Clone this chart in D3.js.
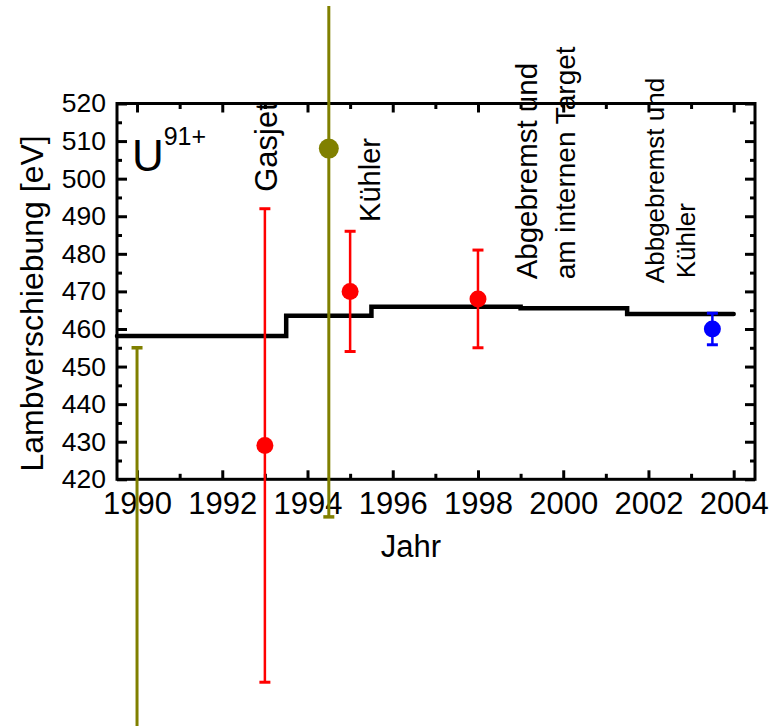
<!DOCTYPE html>
<html><head><meta charset="utf-8">
<script src="https://cdn.jsdelivr.net/npm/d3@7"></script>
<style>body{margin:0;background:#fff}svg{display:block;font-family:Arial,"Liberation Sans",sans-serif}</style>
</head><body><svg id="c" width="770" height="726"></svg>
<script>
// data
const redYears = [1993, 1995, 1998];
const redValues = [429, 470, 468];
const redErrors = [63, 16, 13];
const oliveYears = [1990, 1994.5];
const oliveValues = [340, 508];
const oliveErrors = [115, 98];
const blueYears = [2003.5];
const blueValues = [460];
const blueErrors = [4.2];
const stepYears = [1989.53, 1993.5, 1995.5, 1999, 2001.5, 2004];
const stepValues = [458.1, 463.5, 465.9, 465.5, 464.0, 464.0];
const xTickLabels = [1990, 1992, 1994, 1996, 1998, 2000, 2002, 2004];
const yTickLabels = [420, 430, 440, 450, 460, 470, 480, 490, 500, 510, 520];
const notes = [
  {text: "Gasjet", year: 1993.28, value: 496.5, size: 31},
  {text: "Kühler", year: 1995.70, value: 488.5, size: 29},
  {text: "Abgebremst und", year: 1999.39, value: 473.2, size: 29.5},
  {text: "am internen Target", year: 2000.28, value: 473.2, size: 28},
  {text: "Abbgebremst und", year: 2002.37, value: 472.2, size: 26},
  {text: "Kühler", year: 2003.09, value: 473.5, size: 26}
];

const svg = d3.select("#c");
const L = 117, R = 755, T = 103.5, B = 479.3;
const x = d3.scaleLinear().domain([1989.53, 2004.5]).range([L, R]);
const y = d3.scaleLinear().domain([420, 520]).range([B, T]);

svg.append("defs").append("clipPath").attr("id","clip")
  .append("rect").attr("x",0).attr("y",6).attr("width",770).attr("height",720);

// axes with inward ticks
const minorX = d3.range(1990, 2005, 1);
const minorY = d3.range(420, 521, 5);
function tickAxis(axisFn, scale, vals, len, transform) {
  const g = svg.append("g").attr("transform", transform)
    .call(axisFn(scale).tickValues(vals).tickSize(len).tickFormat(""));
  g.select(".domain").remove();
  g.selectAll("line").attr("stroke","#000").attr("stroke-width",3);
  return g;
}
const majX = minorX.filter(d => d % 2 === 0), minX = minorX.filter(d => d % 2 !== 0);
const majY = minorY.filter(d => d % 10 === 0), minY = minorY.filter(d => d % 10 !== 0);
tickAxis(d3.axisTop, x, majX, 9, `translate(0,${B})`);
tickAxis(d3.axisTop, x, minX, 5.5, `translate(0,${B})`);
tickAxis(d3.axisBottom, x, majX, 9, `translate(0,${T})`);
tickAxis(d3.axisBottom, x, minX, 5.5, `translate(0,${T})`);
tickAxis(d3.axisRight, y, majY, 10, `translate(${L},0)`);
tickAxis(d3.axisRight, y, minY, 5, `translate(${L},0)`);
tickAxis(d3.axisLeft, y, majY, 10, `translate(${R},0)`);
tickAxis(d3.axisLeft, y, minY, 5, `translate(${R},0)`);

// tick labels
const xl = svg.append("g").attr("transform",`translate(0,${B})`)
  .call(d3.axisBottom(x).tickValues(xTickLabels).tickSize(0).tickPadding(35).tickFormat(d3.format("d")));
xl.select(".domain").remove();
xl.selectAll("text").attr("font-size",31).attr("fill","#000").attr("font-family","Arial, 'Liberation Sans', sans-serif").attr("dy",0);
const yl = svg.append("g").attr("transform",`translate(${L},0)`)
  .call(d3.axisLeft(y).tickValues(yTickLabels).tickSize(0).tickPadding(11).tickFormat(d3.format("d")));
yl.select(".domain").remove();
yl.selectAll("text").attr("font-size",26.5).attr("fill","#000").attr("font-family","Arial, 'Liberation Sans', sans-serif");

// frame
svg.append("rect").attr("x",L).attr("y",T).attr("width",R-L).attr("height",B-T)
  .attr("fill","none").attr("stroke","#000").attr("stroke-width",3);

// step line
const stepData = stepYears.map((d,i)=>[d, stepValues[i]]);
svg.append("path").datum(stepData)
  .attr("d", d3.line().x(d=>x(d[0])).y(d=>y(d[1])).curve(d3.curveStepAfter))
  .attr("fill","none").attr("stroke","#000").attr("stroke-width",4.5).attr("stroke-linecap","round");

// error bars + points
const plot = svg.append("g").attr("clip-path","url(#clip)");
function series(years, vals, errs, color, r, w, cap) {
  const data = years.map((d,i)=>({x:d, v:vals[i], e:errs[i]}));
  const g = plot.append("g");
  g.selectAll(".eb").data(data).join("line")
    .attr("x1",d=>x(d.x)).attr("x2",d=>x(d.x))
    .attr("y1",d=>y(d.v+d.e)).attr("y2",d=>y(d.v-d.e))
    .attr("stroke",color).attr("stroke-width",w);
  ["top","bot"].forEach(k=>{
    g.selectAll(".c"+k).data(data).join("line")
      .attr("x1",d=>x(d.x)-cap).attr("x2",d=>x(d.x)+cap)
      .attr("y1",d=>y(k==="top"?d.v+d.e:d.v-d.e)).attr("y2",d=>y(k==="top"?d.v+d.e:d.v-d.e))
      .attr("stroke",color).attr("stroke-width",w+0.5);
  });
  g.selectAll("circle").data(data).join("circle")
    .attr("cx",d=>x(d.x)).attr("cy",d=>y(d.v)).attr("r",r).attr("fill",color);
}
series(oliveYears, oliveValues, oliveErrors, "#808000", 10, 3, 5.5);
series(redYears, redValues, redErrors, "#ff0000", 8.5, 2.5, 5.5);
series(blueYears, blueValues, blueErrors, "#0000ff", 8.5, 2.5, 5.5);

// annotations
svg.selectAll(".note").data(notes).join("text")
  .attr("transform", d=>`translate(${x(d.year)},${y(d.value)}) rotate(-90)`)
  .attr("font-size", d=>d.size).attr("fill","#000").text(d=>d.text);

// U91+
const u = svg.append("text").attr("x",x(1989.88)).attr("y",y(502.1)).attr("font-size",44).attr("fill","#000");
u.append("tspan").text("U");
u.append("tspan").attr("font-size",25).attr("dy",-26).text("91+");

// axis titles
svg.append("text").attr("transform",`translate(43,${(T+B)/2+12}) rotate(-90)`)
  .attr("text-anchor","middle").attr("font-size",32).attr("fill","#000").text("Lambverschiebung [eV]");
svg.append("text").attr("x",(L+R)/2-25).attr("y",557).attr("text-anchor","middle")
  .attr("font-size",31).attr("fill","#000").text("Jahr");
</script></body></html>
